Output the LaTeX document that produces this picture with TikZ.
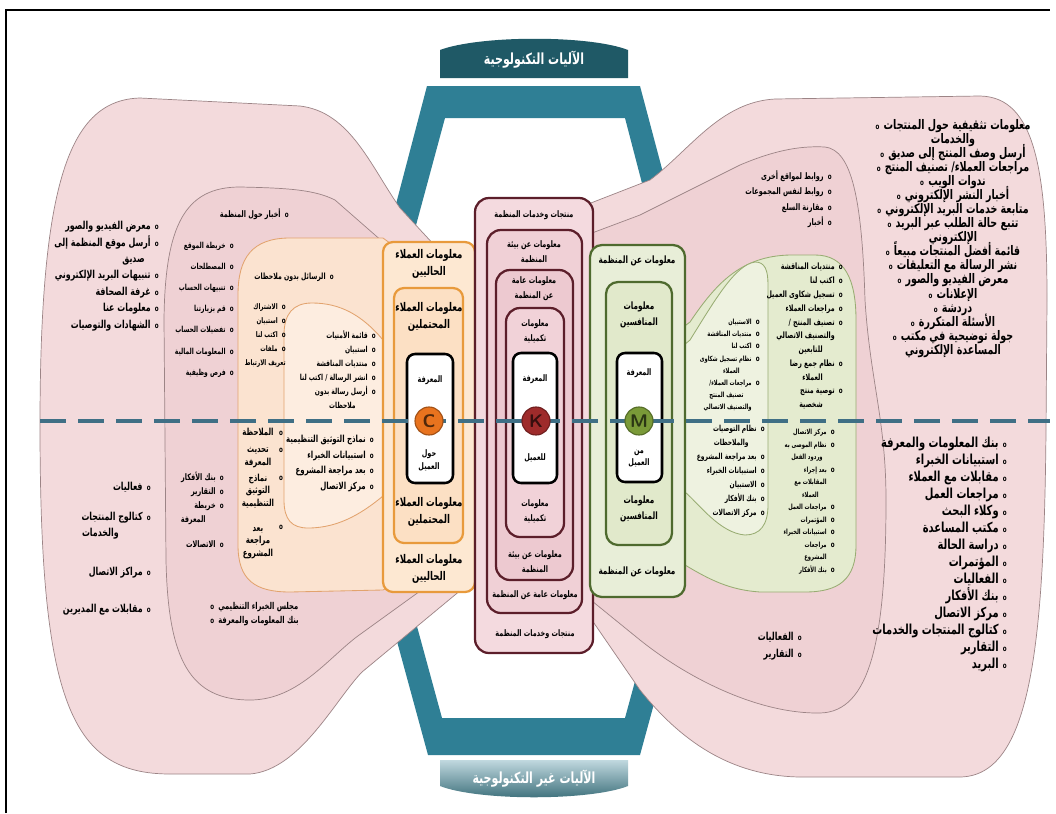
\documentclass[tikz,border=0pt]{standalone}
\usepackage{fontspec}
\usepackage{xcolor}
\usetikzlibrary{positioning}
\TeXXeTstate=1
\newfontfamily\arabicfont[Script=Arabic,FakeStretch=0.72]{DejaVu Sans}
\newcommand{\ar}[1]{\beginR #1\endR}
\newcommand{\bul}{{\fontsize{5.5}{5.5}\selectfont o}}
\newcommand{\bi}[1]{\ar{#1}\hspace{3pt}\bul}
\newcommand{\bl}[1]{\bul\hspace{3pt}\ar{#1}}
\newcommand{\ci}[2][0pt]{\ar{#2}\hspace{#1}\hspace{3pt}\phantom{\bul}}
\newcommand{\fs}[2]{\arabicfont\bfseries\fontsize{#1}{#2}\selectfont\lineskiplimit=-\maxdimen}

\definecolor{pinkA}{HTML}{F3DADC}
\definecolor{pinkB}{HTML}{EFD1D4}
\definecolor{edgeP}{HTML}{9C8486}
\definecolor{peachA}{HTML}{FBE3D0}
\definecolor{peachB}{HTML}{FDEDE0}
\definecolor{edgeO}{HTML}{E2A36E}
\definecolor{greenA}{HTML}{E4EBCF}
\definecolor{greenB}{HTML}{EEF2E0}
\definecolor{edgeG}{HTML}{98AC72}
\definecolor{orangeD}{HTML}{E89A3C}
\definecolor{orangeF}{HTML}{FDE8D2}
\definecolor{orangeG}{HTML}{FCE0C4}
\definecolor{orangeC}{HTML}{E8731E}
\definecolor{maroonD}{HTML}{5C1E2A}
\definecolor{maroonC}{HTML}{9E2B2B}
\definecolor{roseA}{HTML}{F4DADF}
\definecolor{roseB}{HTML}{F0D0D6}
\definecolor{roseC}{HTML}{EDC9D0}
\definecolor{roseD}{HTML}{F1D2D8}
\definecolor{oliveD}{HTML}{4E6A2E}
\definecolor{oliveC}{HTML}{7A9A38}
\definecolor{oliveF}{HTML}{E8EED8}
\definecolor{oliveG}{HTML}{E1E9CB}
\definecolor{tealA}{HTML}{2F7F95}
\definecolor{tealD}{HTML}{1F5966}
\definecolor{dashB}{HTML}{3F6F85}

\begin{document}
\begin{tikzpicture}
[
x=0.25mm, y=-0.25mm,
lobe-a/.style={fill=pinkA, draw=edgeP, line width=0.5pt},
lobe-b/.style={fill=pinkB, draw=edgeP, line width=0.5pt},
lobe-c/.style={fill=peachA, draw=edgeO, line width=0.6pt},
lobe-d/.style={fill=peachB, draw=edgeO, line width=0.6pt},
lobe-e/.style={fill=greenA, draw=edgeG, line width=0.6pt},
lobe-f/.style={fill=greenB, draw=edgeG, line width=0.6pt},
box-c/.style={draw=orangeD, line width=1.6pt, rounded corners=2.5mm},
box-k/.style={draw=maroonD, line width=1.6pt, rounded corners=3.5mm},
box-m/.style={draw=oliveD, line width=1.6pt, rounded corners=3mm},
box-w/.style={draw=black, fill=white, line width=1.8pt, rounded corners=2mm},
circ-a/.style={circle, fill=#1, draw=#1!70!black, line width=0.8pt, minimum size=7mm, inner sep=0pt, text=#1!35!black, font=\sffamily\bfseries\fontsize{13}{13}\selectfont},
mid-line/.style={draw=dashB, line width=1mm, dash pattern=on 6.5mm off 3mm},
lbl-c/.style={font=\fs{8.5}{12}, align=center, inner sep=0pt},
lbl-k/.style={font=\fs{6.4}{10.5}, align=center, inner sep=0pt},
lbl-m/.style={font=\fs{7.2}{11.4}, align=center, inner sep=0pt},
lbl-w/.style={font=\fs{6.4}{9}, align=center, inner sep=0pt},
lst-a/.style={align=right, inner sep=0pt, anchor=north east}
]

\fill[white] (0,0) rectangle (1056,813);
\useasboundingbox (0,0) rectangle (1056,813);
\draw[line width=1pt] (6,813) -- (6,10) -- (1050,10);

\fill[tealA, even odd rule] (427,86) -- (640,86) -- (730,425) -- (640,755) -- (428,755) -- (338,425) -- cycle
  (445,118) -- (625,118) -- (705,425) -- (625,718) -- (442,718) -- (362,425) -- cycle;
\fill[tealD] (440,78) -- (440,50) .. controls (480,35) and (590,35) .. (628,50) -- (628,78) -- cycle;
\shade[top color=tealA!30!white, bottom color=tealD!90!white] (440,760) -- (628,760) -- (628,786) .. controls (590,801) and (478,801) .. (440,786) -- cycle;

\path[lobe-a] (485,300) -- (400,208) .. controls (370,165) and (350,112) .. (300,106) -- (140,98) .. controls (70,100) and (40,180) .. (40,425) .. controls (40,700) and (70,774) .. (170,774) -- (250,774) .. controls (300,770) and (335,700) .. (362,672) -- (485,570) -- cycle;
\path[lobe-a] (585,300) -- (560,215) -- (650,180) .. controls (690,150) and (720,102) .. (775,99) -- (980,96) .. controls (1035,97) and (1047,170) .. (1047,300) -- (1046,430) .. controls (1044,650) and (1030,776) .. (960,777) -- (800,777) .. controls (730,776) and (680,740) .. (640,690) -- (585,610) -- cycle;
\path[lobe-b] (470,310) -- (383,242) -- (335,200) .. controls (315,190) and (290,188) .. (240,187) .. controls (185,187) and (165,225) .. (164,320) -- (166,560) .. controls (168,660) and (190,700) .. (250,700) .. controls (300,700) and (330,655) .. (362,633) -- (470,555) -- cycle;
\path[lobe-b] (560,245) -- (640,215) -- (740,165) .. controls (780,148) and (805,146) .. (825,147) .. controls (852,150) and (862,200) .. (865,300) .. controls (870,380) and (886,420) .. (886,500) .. controls (886,640) and (870,712) .. (820,713) .. controls (760,714) and (690,680) .. (640,640) -- (560,575) -- cycle;
\path[lobe-c] (440,280) -- (383,238) -- (290,238) .. controls (252,238) and (238,258) .. (238,295) -- (238,545) .. controls (238,580) and (255,592) .. (290,592) -- (383,590) -- (440,560) -- cycle;
\path[lobe-e] (660,345) -- (690,322) .. controls (715,285) and (740,256) .. (790,255) -- (815,255) .. controls (845,255) and (856,280) .. (856,320) -- (856,545) .. controls (856,580) and (838,592) .. (805,592) -- (760,592) .. controls (730,590) and (710,580) .. (685,565) -- (660,540) -- cycle;
\path[lobe-d] (430,390) -- (383,340) .. controls (362,315) and (340,303) .. (312,303) .. controls (293,303) and (284,314) .. (284,335) -- (284,500) .. controls (284,520) and (292,528) .. (308,528) .. controls (340,528) and (365,512) .. (390,490) -- (430,455) -- cycle;
\path[lobe-f] (660,365) -- (690,340) .. controls (715,300) and (735,265) .. (755,262) .. controls (765,262) and (768,270) .. (768,285) -- (768,505) .. controls (768,525) and (760,535) .. (745,535) .. controls (720,533) and (700,505) .. (685,492) -- (660,470) -- cycle;

\draw[box-c, fill=orangeF] (383,242) rectangle (475,592);
\draw[box-c, fill=orangeG] (394,288) rectangle (463,543);
\draw[box-w] (407,354) rectangle (453,483);

\draw[box-k, fill=roseA] (475,198) rectangle (593,653);
\draw[box-k, fill=roseB] (487,230) rectangle (582,613);
\draw[box-k, fill=roseC] (496,270) rectangle (573,580);
\draw[box-k, fill=roseD] (506,308) rectangle (564,537);
\draw[box-w] (513,353) rectangle (557,483);

\draw[box-m, fill=oliveF] (590,245) rectangle (685,597);
\draw[box-m, fill=oliveG] (606,282) rectangle (672,545);
\draw[box-w] (617,353) rectangle (662,482);

\draw[mid-line] (40,421) -- (1050,421);

\node (circ-c) [circ-a=orangeC] at (429,421) {C};
\node (circ-k) [circ-a=maroonC] at (536,421) {K};
\node (circ-m) [circ-a=oliveC]  at (639,421) {M};

\node (cap-top) [font=\fs{10.9}{12}, text=white] at (534,60)  {\ar{الآليات التكنولوجية}};
\node (cap-bot) [font=\fs{10.9}{12}, text=white] at (534,779) {\ar{الآليات غير التكنولوجية}};

\node (c-out-t) [lbl-c] at (429,264) {\ar{معلومات العملاء}\\\ar{الحاليين}};
\node (c-in-t)  [lbl-c] at (429,317) {\ar{معلومات العملاء}\\\ar{المحتملين}};
\node (c-know)  [lbl-w] at (430,380) {\ar{المعرفة}};
\node (c-about) [lbl-w, below=3.5mm of circ-c] {\ar{حول}\\\ar{العميل}};
\node (c-in-b)  [lbl-c] at (429,512) {\ar{معلومات العملاء}\\\ar{المحتملين}};
\node (c-out-b) [lbl-c] at (429,569) {\ar{معلومات العملاء}\\\ar{الحاليين}};

\node (k-1-t)  [lbl-k] at (534,215) {\ar{منتجات وخدمات المنظمة}};
\node (k-2-t)  [lbl-k] at (534,252) {\ar{معلومات عن بيئة}\\\ar{المنظمة}};
\node (k-3-t)  [lbl-k] at (534,289) {\ar{معلومات عامة}\\\ar{عن المنظمة}};
\node (k-4-t)  [lbl-k] at (535,331) {\ar{معلومات}\\\ar{تكميلية}};
\node (k-know) [lbl-w] at (535,379) {\ar{المعرفة}};
\node (k-for)  [lbl-w] at (535,458) {\ar{للعميل}};
\node (k-4-b)  [lbl-k] at (535,511) {\ar{معلومات}\\\ar{تكميلية}};
\node (k-3-b)  [lbl-k] at (535,562) {\ar{معلومات عن بيئة}\\\ar{المنظمة}};
\node (k-2-b)  [lbl-k] at (535,595) {\ar{معلومات عامة عن المنظمة}};
\node (k-1-b)  [lbl-k] at (535,634) {\ar{منتجات وخدمات المنظمة}};

\node (m-out-t) [lbl-m] at (637,261) {\ar{معلومات عن المنظمة}};
\node (m-in-t)  [lbl-m] at (639,315) {\ar{معلومات}\\\ar{المنافسين}};
\node (m-know)  [lbl-w] at (639,373) {\ar{المعرفة}};
\node (m-from)  [lbl-w, below=3.5mm of circ-m] {\ar{من}\\\ar{العميل}};
\node (m-in-b)  [lbl-m] at (639,509) {\ar{معلومات}\\\ar{المنافسين}};
\node (m-out-b) [lbl-m] at (637,572) {\ar{معلومات عن المنظمة}};

\node (lst-l1-top) [lst-a, font=\fs{7.8}{11.7}] at (159,221) {\bi{معرض الفيديو والصور}\\ \bi{أرسل موقع المنظمة إلى}\\ \ci[1.5mm]{صديق}\\ \bi{تنبيهات البريد الإلكتروني}\\ \bi{غرفة الصحافة}\\ \bi{معلومات عنا}\\ \bi{الشهادات والتوصيات}};
\node (lst-l1-bot) [lst-a, font=\fs{7.8}{11.5}] at (151,482) {\bi{فعاليات}\\[9.8pt] \bi{كتالوج المنتجات}\\ \ci[6mm]{والخدمات}\\[16pt] \bi{مراكز الاتصال}\\[14.8pt] \bi{مقابلات مع المديرين}};

\node (itm-news)   [lst-a, font=\fs{6.4}{8}] at (289,208) {\bi{أخبار حول المنظمة}};
\node (lst-l2-top) [lst-a, font=\fs{5.9}{15}] at (234,242) {\bi{خريطة الموقع}\\ \bi{المصطلحات}\\ \bi{تنبيهات الحساب}\\ \bi{قم بزيارتنا}\\ \bi{تفضيلات الحساب}\\ \bi{المعلومات المالية}\\ \bi{فرص وظيفية}};
\node (lst-l2-bot) [lst-a, font=\fs{6.4}{10}] at (224,472) {\bi{بنك الأفكار}\\ \bi{التقارير}\\ \bi{خريطة}\\ \ci[2.5mm]{المعرفة}\\[7.8pt] \bi{الاتصالات}};
\node (lst-l2-end) [align=left, inner sep=0pt, anchor=north west, font=\fs{6.7}{10}] at (210,602) {\bl{مجلس الخبراء التنظيمي}\\ \bl{بنك المعلومات والمعرفة}};

\node (itm-msg)    [lst-a, font=\fs{6.1}{8}] at (334,273) {\bi{الرسائل بدون ملاحظات}};
\node (lst-l3-top) [lst-a, font=\fs{5.5}{10}] at (286,303) {\bi{الاشتراك}\\ \bi{استبيان}\\ \bi{اكتب لنا}\\ \bi{ملفات}\\ \ci[-2mm]{تعريف الارتباط}};
\node (lst-l3-bot) [font=\fs{6.9}{8.9}, align=center, inner sep=0pt, anchor=north] at (258,428) {\ar{الملاحظة}\\[3.2pt] \ar{تحديث}\\ \ar{المعرفة}\\[2.5pt] \ar{نماذج}\\ \ar{التوثيق}\\ \ar{التنظيمية}\\[8.9pt] \ar{بعد}\\ \ar{مراجعة}\\ \ar{المشروع}};
\foreach \yy in {433,450,478,527}
  \node (bul-l3-\yy) [inner sep=0pt, font=\fs{5.5}{5.5}] at (281,\yy) {o};

\node (lst-l4-top) [lst-a, font=\fs{5.9}{10}] at (376,330) {\bi{قائمة الأمنيات}\\ \bi{استبيان}\\ \bi{منتديات المناقشة}\\ \bi{انشر الرسالة / اكتب لنا}\\ \bi{أرسل رسالة بدون}\\ \ci[3mm]{ملاحظات}};
\node (lst-l4-bot) [lst-a, font=\fs{6.9}{11}] at (374,435) {\bi{نماذج التوثيق التنظيمية}\\ \bi{استبيانات الخبراء}\\ \bi{بعد مراجعة المشروع}\\ \bi{مركز الاتصال}};

\node (lst-r2-top) [lst-a, font=\fs{6.4}{11}] at (832,170) {\bi{روابط لمواقع أخرى}\\ \bi{روابط لنفس المجموعات}\\ \bi{مقارنة السلع}\\ \bi{أخبار}};
\node (lst-r3-top) [lst-a, font=\fs{6.2}{9.8}] at (843,263) {\bi{منتديات المناقشة}\\ \bi{اكتب لنا}\\ \bi{تسجيل شكاوى العميل}\\ \bi{مراجعات العملاء}\\ \bi{تصنيف المنتج /}\\ \ci{والتصنيف الاتصالي}\\ \ci[3mm]{للتابعين}\\ \bi{نظام جمع رضا}\\ \ci[3mm]{العملاء}\\ \bi{توصية منتج}\\ \ci[3mm]{شخصية}};
\node (lst-r3-bot) [lst-a, font=\fs{5.1}{8.9}] at (835,429) {\bi{مركز الاتصال}\\ \bi{نظام الموصى به}\\ \ci[1mm]{وردود الفعل}\\ \bi{بعد إجراء}\\ \ci{المقابلات مع}\\ \ci[2mm]{العملاء}\\ \bi{مراجعات العمل}\\ \bi{المؤتمرات}\\ \bi{استبيانات الخبراء}\\ \bi{مراجعات}\\ \ci{المشروع}\\ \bi{بنك الأفكار}};
\node (lst-r4-top) [lst-a, font=\fs{5.1}{8.6}] at (760,319) {\bi{الاستبيان}\\ \bi{منتديات المناقشة}\\ \bi{اكتب لنا}\\ \bi{نظام تسجيل شكاوى}\\ \ci[3mm]{العملاء}\\ \bi{مراجعات العملاء/}\\ \ci[2mm]{تصنيف المنتج}\\ \ci{والتصنيف الاتصالي}};
\node (lst-r4-bot) [lst-a, font=\fs{5.9}{10}] at (765,425) {\bi{نظام التوصيات}\\ \ci[2mm]{والملاحظات}\\ \bi{بعد مراجعة المشروع}\\ \bi{استبيانات الخبراء}\\ \bi{الاستبيان}\\ \bi{بنك الأفكار}\\ \bi{مركز الاتصالات}};

\node (lst-r1-top) [align=center, inner sep=0pt, anchor=north, font=\fs{9.4}{10}] at (953,119) {\bl{معلومات تثقيفية حول المنتجات}\\ \ar{والخدمات}\\ \bl{أرسل وصف المنتج إلى صديق}\\ \bl{مراجعات العملاء/ تصنيف المنتج}\\ \bl{ندوات الويب}\\ \bl{أخبار النشر الإلكتروني}\\ \bl{متابعة خدمات البريد الإلكتروني}\\ \bl{تتبع حالة الطلب عبر البريد}\\ \ar{الإلكتروني}\\ \bl{قائمة أفضل المنتجات مبيعاً}\\ \bl{نشر الرسالة مع التعليقات}\\ \bl{معرض الفيديو والصور}\\ \bl{الإعلانات}\\ \bl{دردشة}\\ \bl{الأسئلة المتكررة}\\ \bl{جولة توضيحية في مكتب}\\ \ar{المساعدة الإلكتروني}};
\node (lst-r1-bot) [lst-a, font=\fs{9.8}{12.1}] at (1007,437) {\bi{بنك المعلومات والمعرفة}\\ \bi{استبيانات الخبراء}\\ \bi{مقابلات مع العملاء}\\ \bi{مراجعات العمل}\\ \bi{وكلاء البحث}\\ \bi{مكتب المساعدة}\\ \bi{دراسة الحالة}\\ \bi{المؤتمرات}\\ \bi{الفعاليات}\\ \bi{بنك الأفكار}\\ \bi{مركز الاتصال}\\ \bi{كتالوج المنتجات والخدمات}\\ \bi{التقارير}\\ \bi{البريد}};
\node (lst-r2-bot) [lst-a, font=\fs{7.8}{12}] at (802,632) {\bi{الفعاليات}\\ \bi{التقارير}};

\end{tikzpicture}
\end{document}
